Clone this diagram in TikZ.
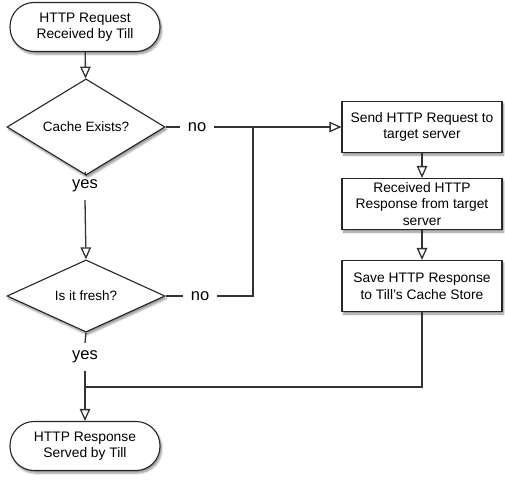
\documentclass[tikz,border=0pt]{standalone}
\usepackage{fontspec}
\setmainfont{Liberation Sans}
\usetikzlibrary{arrows.meta,shapes.geometric,shadows.blur}
\begin{document}
\begin{tikzpicture}[x=1pt,y=-1pt,
  line/.style={draw=black!80, line width=1.3pt},
  arr/.style={line, -{Triangle[open,length=12pt,width=10.5pt]}},
  shad/.style={blur shadow={shadow xshift=1.5pt, shadow yshift=-2.5pt, shadow blur steps=6, shadow opacity=45}},
  term/.style={draw=black!85, line width=1.1pt, fill=white, rounded corners=24pt, minimum width=150pt, minimum height=49pt, align=center, font=\fontsize{13.8}{16.5}\selectfont, shad},
  proc/.style={draw=black!85, line width=1.1pt, fill=white, minimum width=160pt, minimum height=51pt, align=center, font=\fontsize{13.8}{16.5}\selectfont, inner sep=1pt, shad},
  dec/.style={diamond, draw=black!85, line width=1.1pt, fill=white, minimum width=158pt, minimum height=65pt, inner sep=0pt, font=\fontsize{13.5}{15}\selectfont, shad},
  lab/.style={font=\fontsize{16.5}{18}\selectfont, inner sep=0pt, minimum height=28pt, minimum width=34pt}
]
\useasboundingbox (0,0) rectangle (505,479);
\node[term] (start) at (85,27) {HTTP Request\\Received by Till};
\node[dec] (d1) at (86,127) {Cache Exists?};
\node[dec] (d2) at (86,296) {Is it fresh?};
\node[term] (end) at (85,446) {HTTP Response\\Served by Till};
\node[proc] (b1) at (422,127) {Send HTTP Request to\\target server};
\node[proc] (b2) at (422,204) {Received HTTP\\Response from target\\server};
\node[proc] (b3) at (422,286) {Save HTTP Response\\to Till’s Cache Store};
\node[lab] (no1) at (197,127) {no};
\node[lab] (no2) at (200,296) {no};
\node[lab] (yes1) at (85,186) {yes};
\node[lab] (yes2) at (85,357) {yes};
\coordinate (j1) at (253,127);
\coordinate (j2) at (253,296);
\coordinate (m) at (85,387);

\draw[arr] (start) -- (d1);
\draw[line] (d1.south) -- (yes1.north);
\draw[arr] (yes1.south) -- (d2.north);
\draw[line] (d2.south) -- (yes2.north);
\draw[arr] (yes2.south) -- (end.north);
\draw[line] (d1.east) -- (no1.west);
\draw[arr] (no1.east) -- (b1.west |- no1.east);
\draw[line] (d2.east) -- (no2.west);
\draw[line] (no2.east) -- (j2) -- (j1);
\draw[arr] (b1) -- (b2);
\draw[arr] (b2) -- (b3);
\draw[line] (b3.south) |- (m);
\end{tikzpicture}
\end{document}
